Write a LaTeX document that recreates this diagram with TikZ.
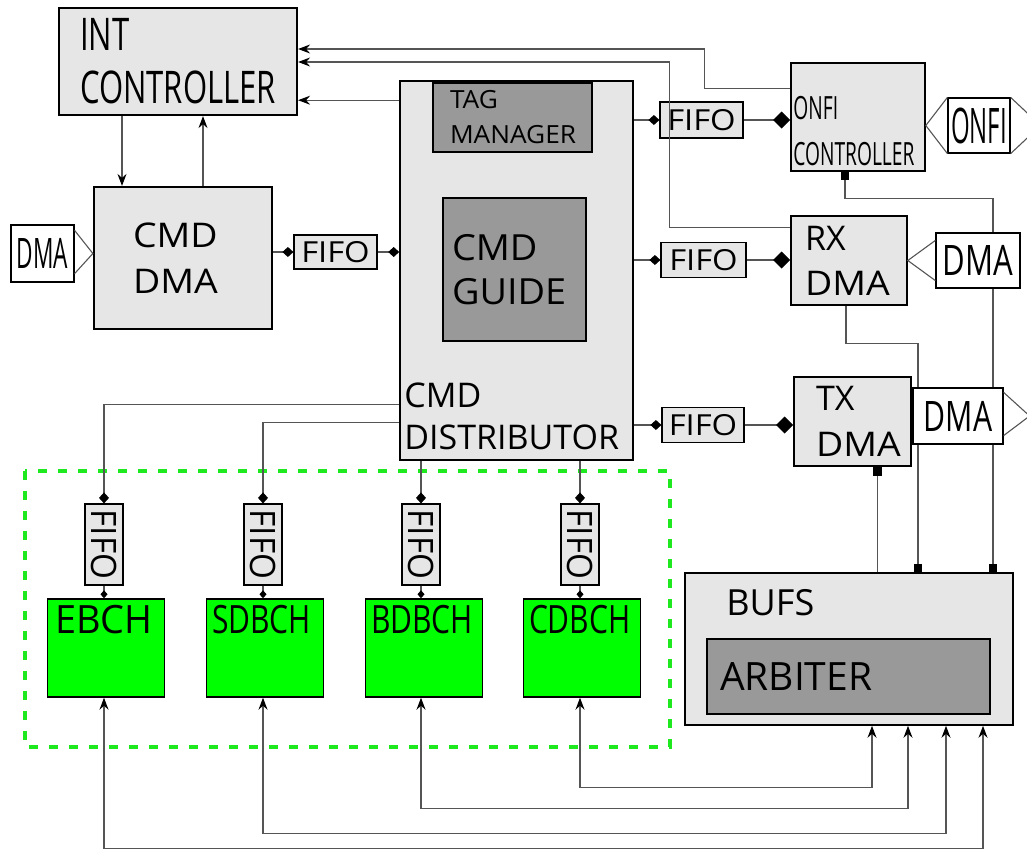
\documentclass[tikz,border=0pt]{standalone}
\usepackage{fontspec}
\setmainfont{Open Sans}
\usepackage{graphicx}
\usetikzlibrary{arrows.meta,positioning}
\definecolor{boxgray}{HTML}{E6E6E6}
\definecolor{inngray}{HTML}{999999}
\definecolor{chgreen}{HTML}{00FF00}
\definecolor{grpgreen}{HTML}{1EE81E}
\definecolor{wiregray}{HTML}{555555}
\newcommand{\sx}[2]{\scalebox{#1}[1]{#2}}
\newcommand{\fs}[2]{\fontsize{#1}{#2}\selectfont}

\begin{document}
\begin{tikzpicture}[x=1pt, y=-1pt, >={Stealth[length=12pt,width=9pt,inset=4pt,color=black]},
 blk/.style={draw, fill=boxgray, line width=1.6pt, align=left, inner ysep=0pt},
 inblk/.style={draw, fill=inngray, line width=1.4pt, align=left, inner ysep=0pt},
 chan/.style={draw, fill=chgreen, line width=1.4pt, minimum width=117, minimum height=98},
 lbl/.style={anchor=north west, inner sep=0pt, align=left},
 fifo/.style={draw, fill=boxgray, line width=1.2pt, inner sep=0pt, font=\fs{29}{29}},
 vfifo/.style={draw, fill=boxgray, line width=1.2pt, inner sep=0pt, minimum width=38, minimum height=81, font=\fs{35}{35}},
 port/.style={draw, fill=white, line width=1.2pt, inner sep=0pt},
 wire/.style={draw=wiregray, line width=1.1pt},
 arr/.style={wire, ->},
 dsm/.style={wire, -{Diamond[length=11pt,width=10pt,color=black]}},
 dbig/.style={wire, -{Diamond[length=17pt,width=17pt,color=black]}},
 dtiny/.style={wire, -{Diamond[length=8pt,width=7pt,color=black]}},
 sqtip/.style={wire, -{Square[length=8pt,width=8pt,color=black]}}]
\path[use as bounding box, clip] (0,0) rectangle (1027,849);

% channel group
\draw[grpgreen, line width=4pt, dash pattern=on 9pt off 11pt] (25,471) rectangle (670,747);

% main blocks
\node[blk, line width=2.2pt, minimum width=238, minimum height=107, font=\fs{45}{53}] (int) at (178,61.5)
 {\sx{0.69}{INT}\\\sx{0.69}{CONTROLLER}};
\node[blk, line width=2.2pt, minimum width=178, minimum height=142, inner xsep=39, text width=100, font=\fs{34}{46}] (cmddma) at (183,258)
 {\sx{1.1}{CMD}\\\sx{1.1}{DMA}};
\node[blk, minimum width=233, minimum height=379] (dist) at (516.5,270.5) {};
\node[lbl, font=\fs{34}{42}] (distlbl) at ([xshift=5,yshift=78]dist.south west) {CMD\\DISTRIBUTOR};
\node[inblk, minimum width=159, minimum height=69, inner xsep=17, text width=125, font=\fs{25}{35}] (tag) at (512.5,117.5)
 {\sx{1.05}{TAG}\\\sx{1.05}{MANAGER}};
\node[inblk, minimum width=143, minimum height=143, inner xsep=9, text width=125, font=\fs{36}{44}] (guide) at (514.5,269.5)
 {\sx{1.05}{CMD}\\\sx{1.05}{GUIDE}};
\node[blk, minimum width=134, minimum height=108] (onfi) at (858,117) {};
\node[lbl, font=\fs{32}{46}] (onfilbl) at ([xshift=3,yshift=-34]onfi.north west) {\sx{0.6}{ONFI}\\\sx{0.6}{CONTROLLER}};
\node[blk, minimum width=116, minimum height=89, inner xsep=14, text width=88, font=\fs{34}{45}] (rx) at (849,260.5)
 {RX\\\sx{1.1}{DMA}};
\node[blk, minimum width=117, minimum height=89, inner xsep=22, text width=73, font=\fs{34}{46}] (tx) at (852.5,421.5)
 {TX\\\sx{1.1}{DMA}};
\node[blk, minimum width=328, minimum height=152] (bufs) at (849,649) {};
\node[lbl, font=\fs{36}{36}] (bufslbl) at ([xshift=42,yshift=-17]bufs.north west) {BUFS};
\node[inblk, minimum width=283, minimum height=75, inner xsep=13, text width=257, font=\fs{39}{39}] (arb) at (848.5,676.5) {ARBITER};

% fifos
\node[fifo, minimum width=83, minimum height=34] (f0) at (335.5,252) {\sx{1.13}{FIFO}};
\node[fifo, minimum width=83, minimum height=36] (f1) at (701.5,120) {\sx{1.13}{FIFO}};
\node[fifo, minimum width=85, minimum height=35] (f2) at (703.5,260) {\sx{1.13}{FIFO}};
\node[fifo, minimum width=82, minimum height=35] (f3) at (703,425) {\sx{1.13}{FIFO}};
\node[vfifo] (v1) at (104,544.5) {\rotatebox{-90}{\sx{0.95}{FIFO}}};
\node[vfifo] (v2) at (263,544.5) {\rotatebox{-90}{\sx{0.95}{FIFO}}};
\node[vfifo] (v3) at (421,544.5) {\rotatebox{-90}{\sx{0.95}{FIFO}}};
\node[vfifo] (v4) at (580,544.5) {\rotatebox{-90}{\sx{0.95}{FIFO}}};

% channels
\node[chan] (ebch) at (106,648) {};
\node[chan] (sdbch) at (265,648) {};
\node[chan] (bdbch) at (424,648) {};
\node[chan] (cdbch) at (582,648) {};
\node[lbl, font=\fs{39}{39}] (ebchlbl) at ([xshift=8,yshift=-7]ebch.north west) {\sx{0.97}{EBCH}};
\node[lbl, font=\fs{39}{39}] (sdbchlbl) at ([xshift=6,yshift=-7]sdbch.north west) {\sx{0.77}{SDBCH}};
\node[lbl, font=\fs{39}{39}] (bdbchlbl) at ([xshift=6,yshift=-7]bdbch.north west) {\sx{0.77}{BDBCH}};
\node[lbl, font=\fs{39}{39}] (cdbchlbl) at ([xshift=6,yshift=-7]cdbch.north west) {\sx{0.77}{CDBCH}};

% interrupt lines
\coordinate (dn) at ([xshift=-61]cmddma.north);
\coordinate (up) at ([xshift=20]cmddma.north);
\coordinate (d1) at ([yshift=-20]dist.north west);
\draw[arr] (dn |- int.south) -- (dn);
\draw[arr] (up) -- (up |- int.south);
\draw[arr] (d1) -- (d1 -| int.east);
\draw[arr] ([yshift=-26]onfi.north west) -- ++(-86,0) |- ([yshift=12.5]int.east);
\draw[arr] ([yshift=-12]rx.north west) -- ++(-121,0) |- ([yshift=-0.5]int.east);

% command path
\draw[dsm] (f0.west -| cmddma.east) -- (f0.west);
\draw[dsm] (f0.east) -- (f0.east -| dist.west);
\draw[dsm] (f1.west -| dist.east) -- (f1.west);
\draw[dbig] (f1.east) -- (f1.east -| onfi.west);
\draw[dsm] (f2.west -| dist.east) -- (f2.west);
\draw[dbig] (f2.east) -- (f2.east -| rx.west);
\draw[dsm] (f3.west -| dist.east) -- (f3.west);
\draw[dbig] (f3.east) -- (f3.east -| tx.west);

\draw[dsm] ([yshift=56]dist.south west) -| (v1.north);
\draw[dsm] ([yshift=38]dist.south west) -| (v2.north);
\draw[dsm] (v3.north |- dist.south) -- (v3.north);
\draw[dsm] (v4.north |- dist.south) -- (v4.north);
\draw[dtiny] (v1.south) -- (v1.south |- ebch.north);
\draw[dtiny] (v2.south) -- (v2.south |- sdbch.north);
\draw[dtiny] (v3.south) -- (v3.south |- bdbch.north);
\draw[dtiny] (v4.south) -- (v4.south |- cdbch.north);

% buffer lines
\coordinate (tq) at ([xshift=25]tx.south);
\draw[sqtip, {Square[length=8pt,width=8pt,color=black]}-{Square[length=8pt,width=8pt,color=black]}] ([xshift=-13]onfi.south) -- ++(0,27) -| ([xshift=144]bufs.north);
\draw[sqtip] ([xshift=-3]rx.south) -- ++(0,38) -| ([xshift=69]bufs.north);
\draw[wire, {Square[length=9pt,width=9pt,color=black]}-] (tq) -- (tq |- bufs.north);

\draw[arr, <->] (v4.south |- cdbch.south) -- ++(0,90) -| ([xshift=23]bufs.south);
\draw[arr, <->] (v3.south |- bdbch.south) -- ++(0,111) -| ([xshift=59]bufs.south);
\draw[arr, <->] (v2.south |- sdbch.south) -- ++(0,136) -| ([xshift=97]bufs.south);
\draw[arr, <->] (v1.south |- ebch.south) -- ++(0,151) -| ([xshift=134]bufs.south);

% dma and onfi ports
\node[port, minimum width=63, minimum height=57, font=\fs{42}{42}] (pl) at (42.5,253.5) {\sx{0.54}{DMA}};
\draw[wire] ([yshift=-6]pl.north east) -- (pl.east -| cmddma.west) -- ([yshift=9]pl.south east);
\node[port, minimum width=84, minimum height=55, font=\fs{42}{42}] (pr) at (978,260.5) {\sx{0.74}{DMA}};
\draw[wire] ([yshift=-8]pr.north west) -- (pr.west -| rx.east) -- ([yshift=8]pr.south west);
\node[port, minimum width=90, minimum height=56, font=\fs{42}{42}] (pt) at (958,416) {\sx{0.72}{DMA}};
\draw[wire] ([yshift=-5]pt.north east) -- ([xshift=26]pt.east) -- ([yshift=9]pt.south east);
\node[port, minimum width=62, minimum height=55, font=\fs{49}{49}] (po) at (979,125.5) {\sx{0.49}{ONFI}};
\draw[wire] (po.north west) -- (po.west -| onfi.east) -- (po.south west);
\draw[wire] (po.north east) -- ([xshift=30]po.east) -- (po.south east);
\end{tikzpicture}
\end{document}
